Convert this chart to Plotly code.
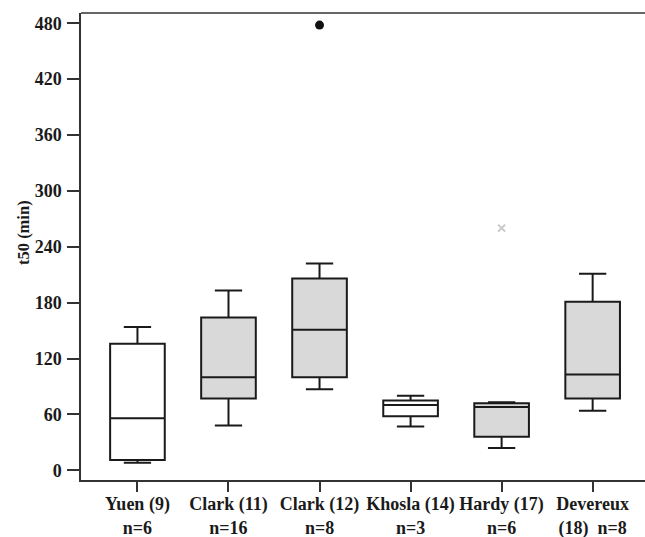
import plotly.graph_objects as go

categories = ["Yuen (9)<br>n=6", "Clark (11)<br>n=16", "Clark (12)<br>n=8",
              "Khosla (14)<br>n=3", "Hardy (17)<br>n=6", "Devereux<br>(18)  n=8"]
lower_whisker = [8, 48, 87, 47, 24, 64]
q1 = [11, 77, 100, 58, 36, 77]
median = [56, 100, 151, 70, 68, 103]
q3 = [136, 164, 206, 75, 72, 181]
upper_whisker = [154, 193, 222, 80, 73, 211]
filled = [False, True, True, False, True, True]

outlier_dot_x = [2]
outlier_dot_y = [478]
outlier_cross_x = [4]
outlier_cross_y = [260]

ytick_vals = [0, 60, 120, 180, 240, 300, 360, 420, 480]

FONT = "Liberation Serif, Times New Roman, serif"

fig = go.Figure()
for i, cat in enumerate(categories):
    fig.add_trace(go.Box(
        x=[i], q1=[q1[i]], median=[median[i]], q3=[q3[i]],
        lowerfence=[lower_whisker[i]], upperfence=[upper_whisker[i]],
        width=0.6, whiskerwidth=0.5, boxpoints=False,
        fillcolor="#d9d9d9" if filled[i] else "white",
        line=dict(color="#1a1a1a", width=2),
        showlegend=False, hoverinfo="skip",
    ))

fig.add_trace(go.Scatter(x=outlier_dot_x, y=outlier_dot_y, mode="markers",
                         marker=dict(symbol="circle", size=9, color="#111111"),
                         showlegend=False, hoverinfo="skip"))
fig.add_trace(go.Scatter(x=outlier_cross_x, y=outlier_cross_y, mode="markers",
                         marker=dict(symbol="x-thin", size=7, color="#c8c8c8",
                                     line=dict(width=2, color="#c8c8c8")),
                         showlegend=False, hoverinfo="skip"))

fig.update_layout(
    width=645, height=537,
    margin=dict(l=81, r=0, t=13, b=57),
    paper_bgcolor="white", plot_bgcolor="white",
    boxmode="overlay",
    font=dict(family=FONT, size=18, color="#1a1a1a", weight="bold"),
    xaxis=dict(range=[-0.62, 5.575], tickmode="array",
               tickvals=list(range(len(categories))), ticktext=categories,
               showgrid=False, zeroline=False, showline=True, automargin=False,
               linecolor="#333333", linewidth=1.5,
               ticks="outside", ticklen=10, tickwidth=1.5, tickcolor="#333333",
               ticklabelstandoff=-3,
               tickfont=dict(family=FONT, size=18, weight="bold", color="#1a1a1a"),
               fixedrange=True),
    yaxis=dict(range=[-10.4, 491], tickmode="array", tickvals=ytick_vals,
               showgrid=False, zeroline=False, showline=True, automargin=False,
               linecolor="#333333", linewidth=1.5,
               ticks="outside", ticklen=12, tickwidth=1.5, tickcolor="#333333",
               ticklabelstandoff=2,
               tickfont=dict(family=FONT, size=18, weight="bold", color="#1a1a1a"),
               fixedrange=True),
    shapes=[dict(type="line", xref="paper", yref="paper", x0=0, x1=1, y0=1, y1=1,
                 line=dict(color="#333333", width=1.5))],
    annotations=[dict(text="t50 (min)", xref="paper", yref="paper",
                      x=-0.101, y=0.529, xanchor="center", yanchor="middle",
                      textangle=-90, showarrow=False,
                      font=dict(family=FONT, size=16.5, weight="bold", color="#1a1a1a"))],
)

fig.write_html("out.html", config={"displayModeBar": False},
               post_script="document.body.style.margin='0';document.body.style.padding='0';"
                           "document.documentElement.style.overflow='hidden';"
                           "document.body.style.overflow='hidden';")
